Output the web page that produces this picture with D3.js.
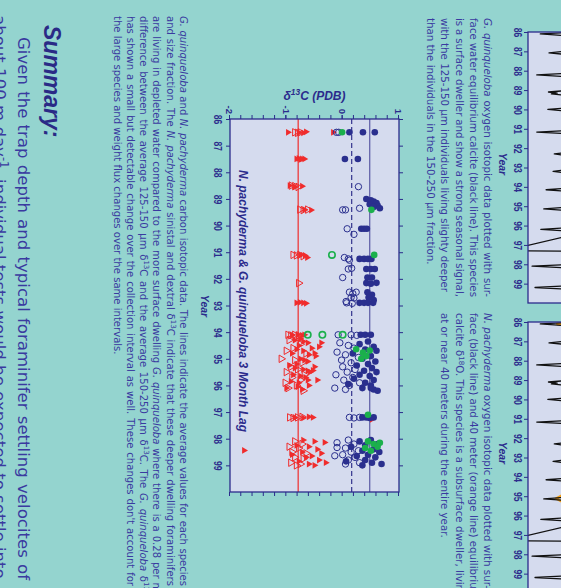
<!DOCTYPE html>
<html>
<head>
<meta charset="utf-8">
<script src="https://cdn.jsdelivr.net/npm/d3@7"></script>
<style>
  html, body { margin: 0; padding: 0; background: #94d4cf; overflow: hidden; }
  svg { display: block; }
</style>
</head>
<body>
<svg id="poster" width="561" height="588"></svg>
<script>
const yearTicks = [86, 87, 88, 89, 90, 91, 92, 93, 94, 95, 96, 97, 98, 99];
const d13Labels = [-2, -1, 0, 1];
const d13Minor = [-2, -1.8, -1.6, -1.4, -1.2, -1, -0.8, -0.6, -0.4, -0.2, 0, 0.2, 0.4, 0.6, 0.8, 1];
// average d13C: N. pachyderma, G. quinqueloba 125-150, G. quinqueloba 150-250
const meanValues = [-0.79, 0.16, 0.48];

// N. pachyderma (red triangles), [year, d13C]
const npFilled = [
  [86.5, -0.97], [86.5, -0.78], [86.52, -0.7], [86.48, -0.65], [86.5, -0.17],
  [87.5, -0.82], [87.48, -0.78], [87.52, -0.75], [87.5, -0.72], [87.5, -0.68],
  [88.5, -0.94], [88.55, -0.85], [88.52, -0.72],
  [89.4, -0.68], [89.42, -0.56],
  [91.1, -0.75], [91.12, -0.67], [91.2, -0.63],
  [92.9, -0.82], [92.88, -0.76], [92.9, -0.7], [92.92, -0.65],
  [94.1, -0.9], [94.1, -0.8], [94.12, -0.72], [94.1, -0.68], [94.4, -0.38],
  [94.25, -0.75], [94.3, -0.85], [94.35, -0.7], [94.4, -0.62], [94.5, -0.78], [94.55, -0.42],
  [94.6, -0.55], [94.65, -0.82], [94.7, -0.7], [94.79, -0.5], [94.8, -0.9], [94.85, -0.6],
  [94.9, -0.48], [95.0, -0.75], [95.05, -0.68], [95.1, -0.62], [95.2, -0.82], [95.25, -0.95],
  [95.3, -0.5], [95.35, -0.85], [95.4, -0.7], [95.44, -0.53], [95.45, -0.62], [95.5, -0.58],
  [95.6, -0.88], [95.65, -0.75], [95.7, -0.66], [95.8, -0.45], [95.8, -0.62], [95.85, -0.92],
  [95.9, -0.78], [96.0, -0.6], [96.05, -0.8], [96.1, -1.0], [96.15, -0.72],
  [97.2, -0.85], [97.22, -0.7], [97.18, -0.6], [97.2, -0.53], [97.27, 0.52],
  [98.05, -0.7], [98.1, -0.5], [98.14, -0.32], [98.25, -0.82], [98.3, -0.6], [98.4, -0.45],
  [98.44, -1.75], [98.5, -0.72], [98.55, -0.38], [98.6, -0.9], [98.65, -0.55], [98.7, -0.65],
  [98.8, -0.42], [98.85, -0.78], [98.9, -0.3], [98.95, -0.6], [99.0, -0.5]
];
const npOpen = [
  [86.5, -0.85], [86.52, -0.8], [86.5, -0.75],
  [88.5, -0.91], [88.52, -0.85], [88.55, -0.79],
  [89.4, -0.76], [89.42, -0.7], [89.4, -0.62],
  [91.1, -0.88], [91.12, -0.82], [91.1, -0.76], [91.15, -0.7],
  [92.16, -0.78],
  [94.1, -0.97], [94.12, -0.92], [94.1, -0.85], [94.12, -0.78],
  [94.3, -0.95], [94.45, -0.75], [94.6, -0.88], [94.7, -1.0], [94.8, -0.65], [95.0, -1.09],
  [95.05, -0.85], [95.15, -0.72], [95.3, -0.92], [95.4, -0.8], [95.5, -1.0], [95.6, -0.68],
  [95.7, -0.9], [95.8, -0.75], [95.9, -1.02], [96.0, -0.82], [96.1, -0.97], [96.2, -0.7],
  [97.2, -0.94], [97.22, -0.88], [97.2, -0.8], [97.18, -0.72],
  [98.1, -0.85], [98.2, -0.72], [98.3, -0.95], [98.35, -0.78], [98.5, -0.9], [98.55, -0.65],
  [98.7, -0.85], [98.75, -0.7], [98.9, -0.92], [98.95, -0.75], [99.0, -0.82]
];
// G. quinqueloba 150-250 um (blue filled) and 125-150 um (blue open)
const gqLarge = [
  [86.5, 0.12], [86.5, 0.36], [86.5, 0.57],
  [87.5, 0.04], [87.5, 0.27],
  [89.0, 0.42], [89.05, 0.5], [89.1, 0.55], [89.15, 0.6], [89.2, 0.48], [89.25, 0.62], [89.3, 0.55], [89.35, 0.66],
  [90.12, 0.33], [90.12, 0.38], [90.12, 0.43],
  [91.25, 0.3], [91.25, 0.38], [91.25, 0.45], [91.25, 0.51],
  [91.63, 0.42], [91.63, 0.5], [91.63, 0.57],
  [91.95, 0.44], [91.95, 0.52],
  [92.16, 0.42], [92.18, 0.5], [92.15, 0.6],
  [92.5, 0.44], [92.6, 0.52], [92.7, 0.46], [92.8, 0.55],
  [92.9, 0.3], [92.9, 0.38], [92.9, 0.45], [92.9, 0.54],
  [94.1, 0.32], [94.1, 0.4], [94.1, 0.5],
  [94.35, 0.45], [94.45, 0.3], [94.55, 0.55], [94.65, 0.4], [94.7, 0.6], [94.8, 0.18], [94.9, 0.5],
  [95.0, 0.35], [95.1, 0.58], [95.2, 0.45], [95.25, 0.25], [95.35, 0.52], [95.45, 0.38], [95.5, 0.6],
  [95.6, 0.3], [95.65, 0.48], [95.75, 0.2], [95.8, 0.55], [95.9, 0.4], [95.95, 0.1], [96.0, 0.5],
  [96.1, 0.35], [96.15, 0.55], [96.2, 0.62], [96.1, 0.5],
  [97.2, 0.35], [97.2, 0.42], [97.22, 0.48], [97.2, 0.55],
  [98.05, 0.5], [98.1, 0.3], [98.2, 0.62], [98.25, 0.4], [98.3, 0.15], [98.4, 0.55], [98.45, 0.35],
  [98.5, 0.65], [98.6, 0.45], [98.65, 0.25], [98.7, 0.58], [98.8, 0.4], [98.85, 0.06], [98.9, 0.52],
  [98.95, 0.69], [99.0, 0.35]
];
const gqSmall = [
  [86.5, -0.11], [86.5, -0.07],
  [88.54, 0.28], [89.35, 0.3], [89.41, 0.0], [89.41, 0.05],
  [90.12, 0.08], [90.33, 0.2],
  [91.2, 0.03], [91.25, 0.1], [91.3, 0.12],
  [91.63, 0.1], [91.6, 0.16], [91.95, 0.0],
  [92.5, 0.12], [92.55, 0.18], [92.5, 0.24], [92.7, 0.15], [92.72, 0.2], [92.85, 0.06],
  [92.9, 0.07], [92.92, 0.17],
  [94.1, -0.08], [94.1, 0.15], [94.12, 0.25],
  [94.4, -0.05], [94.5, 0.1], [94.6, 0.2], [94.75, -0.1], [94.85, 0.05], [94.95, 0.28], [95.05, -0.02],
  [95.15, 0.15], [95.3, 0.0], [95.4, 0.22], [95.5, 0.08], [95.6, -0.12], [95.7, 0.18], [95.8, 0.02],
  [95.9, 0.3], [96.0, 0.12], [96.1, -0.14], [96.15, 0.05],
  [97.2, 0.12], [97.22, 0.2], [97.2, 0.3],
  [98.05, 0.1], [98.15, -0.1], [98.2, 0.2], [98.33, -0.1], [98.35, 0.05], [98.45, 0.28], [98.5, 0.15],
  [98.6, 0.0], [98.64, -0.14], [98.7, 0.22], [98.8, 0.1], [98.9, 0.3], [98.95, 0.05]
];
// green markers
const greenFilled = [
  [86.5, -0.01], [89.41, 0.51], [91.1, 0.56],
  [94.64, 0.24], [94.77, 0.36], [94.69, 0.48], [95.0, 0.33], [94.9, 0.42],
  [97.1, 0.45],
  [98.1, 0.45], [98.15, 0.66], [98.2, 0.55], [98.3, 0.62], [98.35, 0.4], [98.45, 0.5]
];
const greenOpen = [[91.1, -0.19], [94.1, -0.62], [94.1, -0.36], [94.1, 0.0]];

// surface (and 40 m) equilibrium calcite d18O for the two upper charts, [year, value]
const surfaceCalcite = [
  [86.0, 2.6], [86.1, 3.29], [86.2, 2.8], [86.6, 1.3],
  [87.0, 2.9], [87.08, 3.14], [87.14, 2.92], [87.6, 1.2],
  [88.14, 2.9], [88.22, 3.35], [88.3, 2.88], [88.7, 1.3],
  [89.04, 2.9], [89.1, 3.15], [89.16, 3.0], [89.2, 3.1], [89.27, 2.88], [89.6, 1.2],
  [89.94, 2.9], [90.0, 3.16], [90.07, 2.9], [90.6, 1.1],
  [91.1, 2.9], [91.17, 3.35], [91.24, 2.9], [91.7, 1.2],
  [92.24, 2.9], [92.3, 3.05], [92.36, 2.9], [92.8, 1.3],
  [93.14, 2.9], [93.2, 3.07], [93.26, 2.9], [93.7, 1.2],
  [94.08, 2.9], [94.15, 3.19], [94.22, 2.9], [94.7, 1.1],
  [95.07, 2.9], [95.14, 3.23], [95.21, 2.9], [95.7, 1.2],
  [96.13, 2.9], [96.2, 3.28], [96.27, 2.9], [96.45, 2.3],
  [96.6, 2.9], [97.3, 3.9], [97.33, 2.6], [97.7, 1.3],
  [98.02, 2.9], [98.1, 3.43], [98.18, 2.9], [98.6, 1.3],
  [99.12, 2.9], [99.2, 3.38], [99.28, 2.9], [99.8, 1.4]
];
const calcite40m = [
  [86.0, 2.7], [86.1, 3.0], [86.2, 2.7], [86.7, 2.2], [87.5, 2.6], [88.3, 2.7], [89.2, 2.75],
  [90.1, 2.7], [91.2, 2.8], [92.3, 2.7], [93.2, 2.75], [94.2, 2.8], [94.9, 2.88], [95.12, 3.02],
  [95.35, 2.88], [96.2, 2.8], [97.2, 2.85], [98.1, 2.85], [99.2, 2.8], [99.9, 2.6]
];

// ---- text ----
const capGq = [
  "_G. quinqueloba_ oxygen isotopic data plotted with sur-",
  "face water equilibrium calcite (black line). This species",
  "is a surface dweller and show a strong seasonal signal,",
  "with the 125-150 µm individuals living slighty deeper",
  "than the individuals in the 150-250 µm fraction."
];
const capNp = [
  "_N. pachyderma_ oxygen isotopic data plotted with sur-",
  "face (black line) and 40 meter (orange line) equilibrium",
  "calcite δ^18^O. This species is a subsurface dweller, living",
  "at or near 40 meters during the entire year."
];
const capCarbon = [
  "_G. quinqueloba_ and _N. pachyderma_ carbon isotopic data. The lines indicate the average values for each species",
  "and size fraction. The _N. pachyderma_ sinistal and dextral δ^13^C indicate that these deeper dwelling foraminifers",
  "are living in depleted water compared to the more surface dwelling _G. quinqueloba_ where there is a 0.28 per mil",
  "difference between the average 125-150 µm δ^13^C and the average 150-250 µm δ^13^C. The _G. quinqueloba_ δ^13^C",
  "has shown a small but detectable change over the collection interval as well. These changes don't account for",
  "the large species and weight flux changes over the same intervals."
];
const summaryLines = [
  "Given the trap depth and typical foraminifer settling velocites of",
  "about 100 m day^-1^, individual tests would be expected to settle into"
];

const NAVY = "#2b2b8c";
const TEXT = "#3a3aa0";
const RED = "#f02c2c";
const BLUE = "#2a2f8e";
const GREEN = "#1bb04c";
const PLOT_BG = "#d5dbee";
const BODY_FONT = "DejaVu Sans";
const AXIS_FONT = "Liberation Sans, Arial, sans-serif";

const svg = d3.select("#poster");
svg.append("rect").attr("width", 561).attr("height", 588).attr("fill", "#94d4cf");
// the poster is photographed on its side: draw upright, then turn 90 degrees
const g = svg.append("g").attr("transform", "translate(561,0) rotate(90)");

function addRich(text, str, size) {
  let shift = 0;
  str.split(/(_[^_]+_|\^[^^]+\^)/).filter(s => s.length).forEach(s => {
    const ts = text.append("tspan");
    if (s[0] === "^") {
      ts.text(s.slice(1, -1)).attr("font-size", size * 0.7).attr("dy", -size * 0.38);
      shift = size * 0.38;
      return;
    }
    if (s[0] === "_") ts.text(s.slice(1, -1)).attr("font-style", "italic");
    else ts.text(s);
    if (shift) { ts.attr("dy", shift); shift = 0; }
  });
}

function measure(str, size) {
  const t = g.append("text").attr("font-family", BODY_FONT).attr("font-size", size);
  addRich(t, str, size);
  const w = t.node().getComputedTextLength();
  t.remove();
  return w;
}

function textBlock(lines, o) {
  lines.forEach((str, i) => {
    const t = g.append("text")
      .attr("x", o.u).attr("y", o.v + i * o.dv)
      .attr("font-family", o.family || BODY_FONT)
      .attr("font-size", o.size)
      .attr("fill", o.fill || TEXT);
    addRich(t, str, o.size);
    const w = o.widths ? o.widths[i] : null;
    if (w) {
      const nat = t.node().getComputedTextLength();
      const n = str.split(" ").length - 1;
      if (n > 0) t.style("word-spacing", ((w - nat) / n) + "px");
    }
  });
}

function styleAxis(sel, size, condensed) {
  sel.attr("font-family", AXIS_FONT).attr("font-size", size).attr("font-weight", "bold");
  sel.select(".domain").remove();
  sel.selectAll(".tick line").attr("stroke", NAVY).attr("stroke-width", 1);
  sel.selectAll(".tick text").attr("fill", NAVY);
  if (condensed) sel.selectAll(".tick text").attr("textLength", condensed).attr("lengthAdjust", "spacingAndGlyphs");
}

// ---- main chart: d13C ----
const x = d3.scaleLinear().domain([86, 100]).range([119, 492]);
const y = d3.scaleLinear().domain([-2, 1]).range([331, 162]);

g.append("rect")
  .attr("x", x(86)).attr("y", y(1))
  .attr("width", x(100) - x(86)).attr("height", y(-2) - y(1))
  .attr("fill", PLOT_BG);

g.append("g").attr("transform", `translate(0,${y(-2)})`)
  .call(d3.axisBottom(x).tickValues(yearTicks).tickSize(4).tickPadding(4).tickFormat(d => d))
  .call(s => styleAxis(s, 11, 9.5));
g.append("g").attr("transform", `translate(0,${y(1)})`)
  .call(d3.axisTop(x).tickValues(yearTicks).tickSize(4).tickFormat(""))
  .call(s => styleAxis(s, 10));
g.append("g").attr("transform", `translate(${x(86)},0)`)
  .call(d3.axisLeft(y).tickValues(d13Minor).tickSize(4).tickFormat(""))
  .call(s => styleAxis(s, 10));
g.append("g").attr("transform", `translate(${x(86)},0)`)
  .call(d3.axisLeft(y).tickValues(d13Labels).tickSize(4).tickPadding(1).tickFormat(d => String(d)))
  .call(s => styleAxis(s, 9.5));
g.append("g").attr("transform", `translate(${x(100)},0)`)
  .call(d3.axisRight(y).tickValues(d13Minor).tickSize(4).tickFormat(""))
  .call(s => styleAxis(s, 10));

const meanStyles = [
  { stroke: RED, dash: null, width: 1.2 },
  { stroke: "#34348e", dash: "5,3", width: 1.2 },
  { stroke: "#6464aa", dash: null, width: 1.3 }
];
g.selectAll("line.mean").data(meanValues).join("line")
  .attr("class", "mean")
  .attr("x1", x(86)).attr("x2", x(100))
  .attr("y1", d => y(d)).attr("y2", d => y(d))
  .attr("stroke", (d, i) => meanStyles[i].stroke)
  .attr("stroke-width", (d, i) => meanStyles[i].width)
  .attr("stroke-dasharray", (d, i) => meanStyles[i].dash);

const tri = d3.symbol(d3.symbolTriangle, 20);
const triOpen = d3.symbol(d3.symbolTriangle, 24);
g.append("g").selectAll("path").data(npOpen).join("path")
  .attr("d", triOpen).attr("transform", d => `translate(${x(d[0])},${y(d[1])})`)
  .attr("fill", "none").attr("stroke", RED).attr("stroke-width", 1);
g.append("g").selectAll("path").data(npFilled).join("path")
  .attr("d", tri).attr("transform", d => `translate(${x(d[0])},${y(d[1])})`)
  .attr("fill", RED);
g.append("g").selectAll("circle").data(gqSmall).join("circle")
  .attr("cx", d => x(d[0])).attr("cy", d => y(d[1])).attr("r", 3.2)
  .attr("fill", "none").attr("stroke", BLUE).attr("stroke-width", 1);
g.append("g").selectAll("circle").data(gqLarge).join("circle")
  .attr("cx", d => x(d[0])).attr("cy", d => y(d[1])).attr("r", 3.3)
  .attr("fill", BLUE);
g.append("g").selectAll("circle").data(greenOpen).join("circle")
  .attr("cx", d => x(d[0])).attr("cy", d => y(d[1])).attr("r", 3.2)
  .attr("fill", "none").attr("stroke", GREEN).attr("stroke-width", 1.6);
g.append("g").selectAll("circle").data(greenFilled).join("circle")
  .attr("cx", d => x(d[0])).attr("cy", d => y(d[1])).attr("r", 3.3)
  .attr("fill", GREEN);

g.append("rect")
  .attr("x", x(86)).attr("y", y(1))
  .attr("width", x(100) - x(86)).attr("height", y(-2) - y(1))
  .attr("fill", "none").attr("stroke", NAVY).attr("stroke-width", 1.3);

g.append("text")
  .attr("x", 170).attr("y", 322)
  .attr("font-family", AXIS_FONT).attr("font-size", 12.5)
  .attr("font-weight", "bold").attr("font-style", "italic").attr("fill", NAVY)
  .attr("textLength", 262).attr("lengthAdjust", "spacingAndGlyphs")
  .text("N. pachyderma & G. quinqueloba 3 Month Lag");

g.append("text")
  .attr("x", 306).attr("y", 360).attr("text-anchor", "middle")
  .attr("font-family", AXIS_FONT).attr("font-size", 10.5)
  .attr("font-weight", "bold").attr("font-style", "italic").attr("fill", NAVY)
  .text("Year");

const dTitle = g.append("text")
  .attr("transform", `translate(100,${(y(-2) + y(1)) / 2}) rotate(-90)`)
  .attr("text-anchor", "middle")
  .attr("font-family", AXIS_FONT).attr("font-size", 12)
  .attr("font-weight", "bold").attr("font-style", "italic").attr("fill", NAVY);
addRich(dTitle, "δ^13^C (PDB)", 12);

// ---- upper charts: d18O time series (only their lower edge is on the page) ----
const ys = d3.scaleLinear().domain([-1, 3.5]).range([-230, 33]);
function isoChart(u0, u1, series, id, titleU) {
  const xs = d3.scaleLinear().domain([86, 100]).range([u0, u1]);
  g.append("clipPath").attr("id", id).append("rect")
    .attr("x", u0).attr("y", -240).attr("width", u1 - u0).attr("height", 273);
  g.append("rect").attr("x", u0).attr("y", -240).attr("width", u1 - u0).attr("height", 273)
    .attr("fill", PLOT_BG);
  const line = d3.line().x(d => xs(d[0])).y(d => ys(d[1]));
  series.forEach(s => {
    g.append("path").datum(s.data).attr("d", line)
      .attr("clip-path", `url(#${id})`)
      .attr("fill", "none").attr("stroke", s.color).attr("stroke-width", s.width)
      .attr("stroke-linejoin", "round");
  });
  g.append("rect").attr("x", u0).attr("y", -240).attr("width", u1 - u0).attr("height", 273)
    .attr("fill", "none").attr("stroke", NAVY).attr("stroke-width", 1.3);
  g.append("g").attr("transform", `translate(0,${ys(3.5)})`)
    .call(d3.axisBottom(xs).tickValues(yearTicks).tickSize(4).tickPadding(2).tickFormat(d => d))
    .call(s => styleAxis(s, 11, 9.5));
  g.append("text")
    .attr("x", titleU).attr("y", 62).attr("text-anchor", "middle")
    .attr("font-family", AXIS_FONT).attr("font-size", 10.5)
    .attr("font-weight", "bold").attr("font-style", "italic").attr("fill", NAVY)
    .text("Year");
}
isoChart(32, 303, [{ data: surfaceCalcite, color: "#111", width: 1.3 }], "clipGq", 164);
isoChart(322, 593, [
  { data: calcite40m, color: "#f5a21b", width: 2.4 },
  { data: surfaceCalcite, color: "#111", width: 1.3 }
], "clipNp", 453);

// ---- captions ----
const sizeA = 9.5 * 247 / measure(capGq[4], 9.5);
textBlock(capGq, { u: 18, v: 77, dv: 14.25, size: sizeA, widths: [279, 279, 279, 274, null] });
textBlock(capNp, { u: 313, v: 77, dv: 14.25, size: sizeA });
const sizeB = 9.5 * 339 / measure(capCarbon[5], 9.5);
textBlock(capCarbon, { u: 16, v: 381, dv: 13.3, size: sizeB, widths: [570, 570, 582, 582, 570, null] });

// ---- summary ----
g.append("text")
  .attr("x", 25).attr("y", 517)
  .attr("font-family", AXIS_FONT).attr("font-size", 23)
  .attr("font-weight", "bold").attr("font-style", "italic").attr("fill", "#2a2a86")
  .text("Summary:");
const sizeS = 14.5 * 535 / measure(summaryLines[0], 14.5);
textBlock([summaryLines[0]], { u: 37, v: 543, dv: 22, size: sizeS, widths: [543] });
textBlock([summaryLines[1]], { u: 15, v: 567, dv: 22, size: sizeS });
</script>
</body>
</html>
